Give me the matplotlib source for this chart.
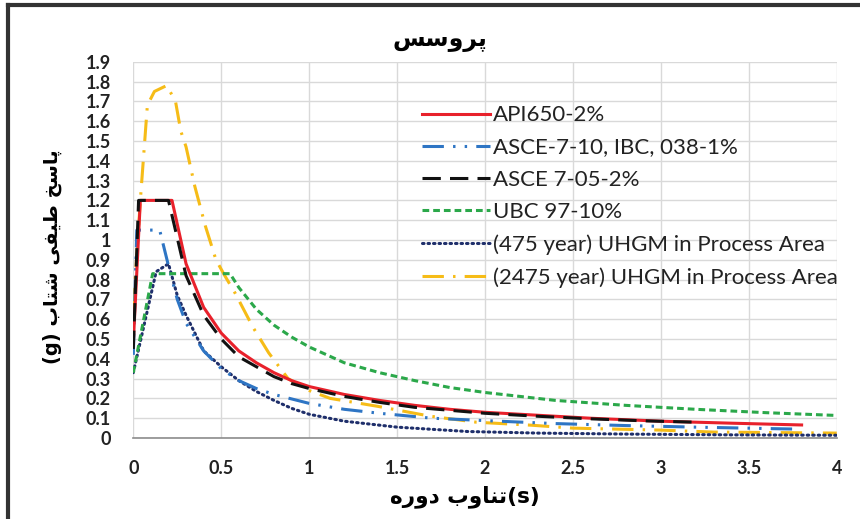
import matplotlib
matplotlib.use("Agg")
import matplotlib.pyplot as plt
from matplotlib.lines import Line2D
import numpy as np

# Persian labels, written as shaped glyphs in visual (left-to-right) order
title_fa = "\uFEB2\uFEB3\uFEED\uFEAE\uFB58"  # پروسس
ylabel_fa = "(g) \uFE8F\uFE8E\uFE98\uFEB7 \uFBFD\uFED4\uFBFF\uFEC3 \uFEA6\uFEB3\uFE8E\uFB58"  # پاسخ طیفی شتاب (g)
xlabel_fa = "\uFEE9\uFEAD\uFEED\uFEA9 \uFE8F\uFEED\uFE8E\uFEE8\uFE97(s)"  # دوره تناوب (s)

x_ticks = [0, 0.5, 1, 1.5, 2, 2.5, 3, 3.5, 4]
y_ticks = [round(0.1 * i, 1) for i in range(20)]
y_tick_labels = [f"{v:g}" for v in y_ticks]

# API650-2%
api_T = [0, 0.04, 0.22, 0.3, 0.4, 0.5, 0.6, 0.7, 0.8, 0.9, 1.0, 1.2, 1.4, 1.6, 1.8, 2.0, 2.3, 2.6, 3.0, 3.4, 3.8]
api_Sa = [0.48, 1.2, 1.2, 0.88, 0.66, 0.53, 0.44, 0.38, 0.33, 0.29, 0.26, 0.22, 0.19, 0.165, 0.145, 0.13, 0.115, 0.1, 0.085, 0.075, 0.066]

# ASCE-7-10, IBC, 038-1%
asce10_T = [0, 0.02, 0.15, 0.2, 0.25, 0.3, 0.4, 0.5, 0.6, 0.7, 0.8, 1.0, 1.2, 1.4, 1.7, 2.0, 2.4, 2.8, 3.2, 3.6, 3.78]
asce10_Sa = [0.42, 1.05, 1.05, 0.87, 0.7, 0.58, 0.44, 0.35, 0.29, 0.25, 0.22, 0.175, 0.145, 0.125, 0.1, 0.088, 0.073, 0.063, 0.055, 0.048, 0.045]

# ASCE 7-05-2%
asce05_T = [0, 0.03, 0.2, 0.3, 0.4, 0.5, 0.6, 0.7, 0.8, 0.9, 1.0, 1.2, 1.4, 1.6, 1.8, 2.0, 2.3, 2.6, 2.9, 3.2]
asce05_Sa = [0.45, 1.2, 1.2, 0.82, 0.62, 0.5, 0.41, 0.36, 0.31, 0.275, 0.25, 0.21, 0.18, 0.155, 0.14, 0.125, 0.11, 0.097, 0.087, 0.08]

# UBC 97-10%
ubc_T = [0, 0.11, 0.55, 0.6, 0.7, 0.8, 0.9, 1.0, 1.2, 1.4, 1.6, 1.8, 2.0, 2.4, 2.8, 3.2, 3.6, 4.0]
ubc_Sa = [0.33, 0.83, 0.83, 0.76, 0.65, 0.57, 0.51, 0.46, 0.38, 0.33, 0.29, 0.255, 0.23, 0.19, 0.165, 0.145, 0.128, 0.114]

# (475 year) UHGM in Process Area
u475_T = [0, 0.13, 0.2, 0.25, 0.3, 0.4, 0.5, 0.6, 0.7, 0.8, 0.9, 1.0, 1.2, 1.5, 1.9, 2.3, 2.8, 3.4, 4.0]
u475_Sa = [0.33, 0.84, 0.88, 0.72, 0.62, 0.44, 0.36, 0.29, 0.235, 0.19, 0.15, 0.12, 0.085, 0.055, 0.033, 0.025, 0.02, 0.016, 0.014]

# (2475 year) UHGM in Process Area
u2475_T = [0, 0.04, 0.08, 0.12, 0.19, 0.24, 0.27, 0.3, 0.35, 0.41, 0.47, 0.52, 0.58, 0.68, 0.77, 0.88, 1.0, 1.12, 1.39, 1.69, 1.95, 2.26, 2.5, 2.75, 3.0, 3.3, 3.6, 4.0]
u2475_Sa = [0.65, 1.2, 1.68, 1.75, 1.78, 1.7, 1.55, 1.47, 1.27, 1.07, 0.9, 0.82, 0.73, 0.56, 0.43, 0.3, 0.24, 0.2, 0.16, 0.11, 0.08, 0.065, 0.05, 0.045, 0.04, 0.03, 0.028, 0.025]

labels = ["API650-2%", "ASCE-7-10, IBC, 038-1%", "ASCE 7-05-2%", "UBC 97-10%",
          "(475 year) UHGM in Process Area", "(2475 year) UHGM in Process Area"]

fig = plt.figure(figsize=(8.6, 5.19), dpi=100)
ax = fig.add_axes([0.155, 0.156, 0.818, 0.725])

lw = 2.2
ax.plot(api_T, api_Sa, color="#E8212B", lw=lw, label=labels[0], zorder=5)
ax.plot(asce10_T, asce10_Sa, color="#2E75C4", lw=lw, dashes=(7, 3, 0.8, 3, 0.8, 3), label=labels[1], zorder=4)
ax.plot(asce05_T, asce05_Sa, color="#111111", lw=lw, dashes=(6, 3), label=labels[2], zorder=6)
ax.plot(ubc_T, ubc_Sa, color="#2BA84A", lw=lw, dashes=(2.2, 1.3), label=labels[3], zorder=4)
ax.plot(u475_T, u475_Sa, color="#1F2F6B", lw=lw, linestyle=(0, (0.5, 1.3)), dash_capstyle="round", label=labels[4], zorder=3)
ax.plot(u2475_T, u2475_Sa, color="#F6BC17", lw=lw, dashes=(7, 3, 0.8, 3), label=labels[5], zorder=2)

ax.set_xlim(0, 4)
ax.set_ylim(0, 1.9)
ax.set_xticks(x_ticks)
ax.set_xticklabels([f"{v:g}" for v in x_ticks])
ax.set_yticks(y_ticks)
ax.set_yticklabels(y_tick_labels)
ax.grid(True, color="#D9D9D9", lw=1)
ax.set_axisbelow(True)
for s in ["top", "right", "left"]:
    ax.spines[s].set_visible(False)
ax.spines["bottom"].set_color("#8C8C8C")
ax.spines["bottom"].set_linewidth(1.2)
ax.tick_params(axis="both", length=0, labelsize=13, colors="#222222")
ax.tick_params(axis="x", pad=16)
ax.tick_params(axis="y", pad=16)
for t in ax.get_xticklabels() + ax.get_yticklabels():
    t.set_fontfamily("Lato")
    t.set_fontweight("bold")

fig.text(0.512, 0.922, title_fa, ha="center", va="center", fontsize=17, fontweight="bold", family="DejaVu Sans")
fig.text(0.061, 0.505, ylabel_fa, ha="center", va="center", rotation=90, fontsize=14, fontweight="bold", family="DejaVu Sans")
fig.text(0.54, 0.043, xlabel_fa, ha="center", va="center", fontsize=15.5, fontweight="bold", family="DejaVu Sans")

leg = fig.legend(loc="upper left", bbox_to_anchor=(0.491, 0.797), frameon=False,
                 handlelength=3.05, handletextpad=0.15, labelspacing=0.55, borderpad=0, borderaxespad=0,
                 prop={"family": "Lato", "size": 16})
for t in leg.get_texts():
    t.set_color("#222222")

# frame around picture (top and left edges visible in the reference)
fig.add_artist(Line2D([0.009, 1.0], [0.99, 0.99], transform=fig.transFigure, color="#333333", lw=3))
fig.add_artist(Line2D([0.009, 0.009], [0.0, 0.99], transform=fig.transFigure, color="#333333", lw=3))

fig.savefig("out.png", dpi=100)
